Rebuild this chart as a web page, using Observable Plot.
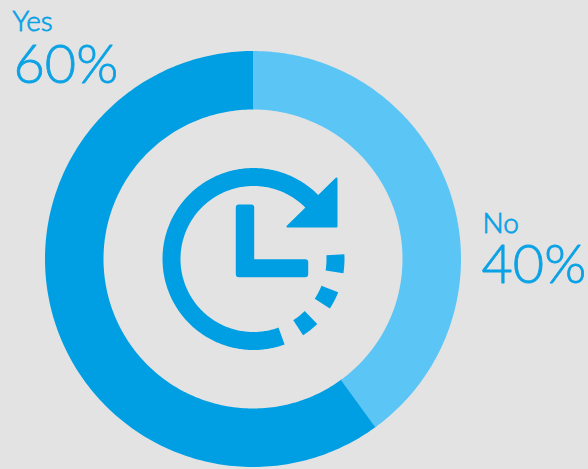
<!DOCTYPE html>
<html>
<head>
<meta charset="utf-8">
<script src="https://cdn.jsdelivr.net/npm/d3@7"></script>
<script src="https://cdn.jsdelivr.net/npm/@observablehq/plot@0.6"></script>
<style>
  html, body { margin: 0; padding: 0; background: #e3e3e3; }
  svg { display: block; }
</style>
</head>
<body>
<div id="chart"></div>
<script>
const categories = ["Yes", "No"];
const shares = [60, 40];
const sharesText = ["60%", "40%"];

const colorYes = "#009fe3";
const colorNo = "#5bc5f5";
const cx = 253, cy = 259, outerR = 208, innerR = 149.5;
const iconCx = 253.5, iconCy = 259, iconOuter = 91, iconInner = 73;

function sector(a0, a1, r0, r1, ox, oy, extra) {
  const n = Math.max(2, Math.ceil(Math.abs(a1 - a0)));
  return d3.range(n + 1).map(i => {
    const a = (a0 + (a1 - a0) * i / n) * Math.PI / 180;
    return {
      x1: ox + r1 * Math.sin(a), y1: oy - r1 * Math.cos(a),
      x2: ox + r0 * Math.sin(a), y2: oy - r0 * Math.cos(a),
      ...extra
    };
  });
}

// "No" runs clockwise from 12 o'clock; "Yes" completes the circle.
const noEnd = shares[1] / 100 * 360;
const ringRows = [
  ...sector(noEnd - 0.4, 360.2, innerR, outerR, cx, cy, {category: categories[0]}),
  ...sector(0, noEnd, innerR, outerR, cx, cy, {category: categories[1]})
];

const iconArcs = [[160, 407], [87, 99], [111.5, 123], [135.5, 147]];
const iconRows = iconArcs.flatMap((a, i) =>
  sector(a[0], a[1], iconInner, iconOuter, iconCx, iconCy, {part: i}));

const arrow = [[336, 178], [336, 226], [287, 226], [336, 178]].map(([x, y]) => ({x, y}));
const hands = [
  [238.3, 207], [250.7, 207], [250.7, 261.7], [304.7, 261.7],
  [304.7, 273.7], [238.3, 273.7], [238.3, 207]
].map(([x, y]) => ({x, y}));

const labelStyle = {
  x: "x", y: "y", text: "t", textAnchor: "start", lineAnchor: "bottom",
  fill: "#0ba2e5", stroke: "#0ba2e5", strokeWidth: 0.8, fontFamily: "Lato", fontWeight: 300
};

const chart = Plot.plot({
  width: 588, height: 469,
  margin: 0,
  style: {background: "#e3e3e3"},
  x: {domain: [0, 588], range: [0, 588], axis: null},
  y: {domain: [0, 469], range: [0, 469], axis: null},
  color: {domain: categories, range: [colorYes, colorNo]},
  marks: [
    Plot.area(ringRows, {x1: "x1", y1: "y1", x2: "x2", y2: "y2", fill: "category"}),
    Plot.area(iconRows, {x1: "x1", y1: "y1", x2: "x2", y2: "y2", z: "part", fill: colorYes}),
    Plot.line(arrow, {x: "x", y: "y", fill: colorYes, stroke: colorYes, strokeWidth: 2, strokeLinejoin: "round"}),
    Plot.line(hands, {x: "x", y: "y", fill: colorYes, stroke: colorYes, strokeWidth: 6, strokeLinejoin: "round"}),
    Plot.text([{x: 12, y: 30, t: categories[0]}], {...labelStyle, fontSize: 28}),
    Plot.text([{x: 13, y: 82, t: sharesText[0]}], {...labelStyle, fontSize: 54}),
    Plot.text([{x: 482, y: 232, t: categories[1]}], {...labelStyle, fontSize: 28}),
    Plot.text([{x: 481, y: 282, t: sharesText[1]}], {...labelStyle, fontSize: 54})
  ]
});
document.getElementById("chart").append(chart);
</script>
</body>
</html>
